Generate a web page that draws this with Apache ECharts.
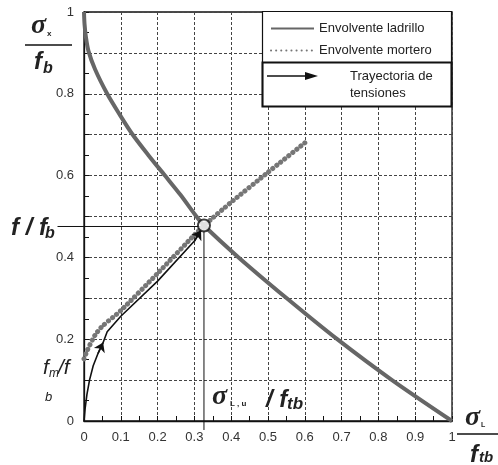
<!DOCTYPE html>
<html>
<head>
<meta charset="utf-8">
<script src="https://cdn.jsdelivr.net/npm/echarts@6/dist/echarts.min.js"></script>
<style>
html,body{margin:0;padding:0;background:#fff}
#main{width:498px;height:465px}
</style>
</head>
<body>
<div id="main"></div>
<script>
// curva envolvente del ladrillo
var brickX = [0, 0.0015, 0.005, 0.012, 0.03, 0.063, 0.095, 0.13, 0.175, 0.22, 0.262, 0.303, 0.326, 0.42, 0.551, 0.688, 0.837, 1];
var brickY = [1, 0.97, 0.94, 0.905, 0.86, 0.8, 0.752, 0.703, 0.65, 0.6, 0.553, 0.503, 0.478, 0.4, 0.3, 0.2, 0.1, 0];
// envolvente del mortero
var mortarX = [0, 0.01, 0.03, 0.05, 0.1, 0.2, 0.3, 0.326, 0.4, 0.5, 0.6];
var mortarY = [0.152, 0.175, 0.21, 0.232, 0.27, 0.361, 0.455, 0.478, 0.535, 0.608, 0.68];
// trayectoria de tensiones
var pathX = [0, 0.003, 0.008, 0.015, 0.025, 0.038, 0.052, 0.063, 0.1, 0.2, 0.3, 0.318];
var pathY = [0, 0.03, 0.065, 0.1, 0.135, 0.165, 0.192, 0.218, 0.256, 0.342, 0.44, 0.466];
var arrowAt = [6, 11];
// punto de rotura y lineas de referencia
var crossPt = [0.326, 0.478];
var refLeftX = -0.072;
var refBottomY = -0.022;

var txtColor = '#222';
var lineColor = '#111';

function pairs(xs, ys) {
  return xs.map(function (x, i) { return [x, ys[i]]; });
}

var pathData = pairs(pathX, pathY);
var arrows = arrowAt.map(function (i) {
  return [{ coord: pathData[i - 1] }, { coord: pathData[i] }];
});

var chart = echarts.init(document.getElementById('main'));

var option = {
  animation: false,
  grid: {
    left: 84, right: 46, top: 12, bottom: 44,
    show: true, borderColor: lineColor, borderWidth: 1.3
  },
  legend: {
    data: ['Envolvente ladrillo', 'Envolvente mortero'],
    orient: 'vertical',
    left: 270, top: 22,
    padding: 0,
    itemWidth: 43, itemHeight: 14, itemGap: 9,
    z: 6,
    itemStyle: { opacity: 0 },
    textStyle: { fontSize: 13, color: txtColor, fontFamily: 'Liberation Sans' }
  },
  xAxis: {
    type: 'value', min: 0, max: 1, interval: 0.1,
    axisLine: { lineStyle: { color: lineColor, width: 1.3 } },
    axisTick: { inside: true, length: 5, lineStyle: { color: lineColor } },
    minorTick: { show: true, splitNumber: 2, length: 5, lineStyle: { color: lineColor } },
    splitLine: { show: true, lineStyle: { color: '#444', type: [3, 2], width: 1 } },
    axisLabel: {
      margin: 10, fontSize: 13, color: '#333', fontFamily: 'Liberation Sans',
      formatter: function (v) {
        if (v === 0) return '0';
        if (Math.abs(v - 1) < 1e-9) return '1';
        return v.toFixed(1);
      }
    }
  },
  yAxis: {
    type: 'value', min: 0, max: 1, interval: 0.1,
    axisLine: { show: true, lineStyle: { color: lineColor, width: 1.3 } },
    axisTick: { show: true, inside: true, length: 5, lineStyle: { color: lineColor } },
    minorTick: { show: true, splitNumber: 2, length: 5, lineStyle: { color: lineColor } },
    splitLine: { show: true, lineStyle: { color: '#444', type: [3, 2], width: 1 } },
    axisLabel: {
      margin: 10, fontSize: 13, color: '#333', fontFamily: 'Liberation Sans',
      formatter: function (v) {
        var k = Math.round(v * 10);
        if (k % 2) return '';
        if (k === 0) return '0';
        if (k === 10) return '1';
        return v.toFixed(1);
      }
    }
  },
  series: [{
    name: 'Envolvente ladrillo',
    type: 'line',
    data: pairs(brickX, brickY),
    symbol: 'none',
    smooth: 0.3,
    z: 3,
    itemStyle: { color: '#666' },
    lineStyle: { color: '#666', width: 4 }
  }, {
    name: 'Envolvente mortero',
    type: 'line',
    data: pairs(mortarX, mortarY),
    symbol: 'none',
    smooth: 0.2,
    z: 2,
    itemStyle: { color: '#767676' },
    lineStyle: { color: '#767676', width: 5, type: [0.1, 5], cap: 'round' }
  }, {
    name: 'Trayectoria de tensiones',
    type: 'line',
    data: pathData,
    symbol: 'none',
    z: 4,
    lineStyle: { color: lineColor, width: 1.6 },
    markLine: {
      silent: true,
      symbol: ['none', 'arrow'],
      symbolSize: 9,
      label: { show: false },
      lineStyle: { color: lineColor, width: 1.6, type: 'solid' },
      data: arrows
    }
  }, {
    name: 'rotura',
    type: 'scatter',
    data: [crossPt],
    symbol: 'circle',
    symbolSize: 12,
    z: 10,
    itemStyle: { color: '#fff', borderColor: lineColor, borderWidth: 2 }
  }]
};

chart.setOption(option);

var pC = chart.convertToPixel({ gridIndex: 0 }, crossPt);
var pL = chart.convertToPixel({ gridIndex: 0 }, [refLeftX, crossPt[1]]);
var pB = chart.convertToPixel({ gridIndex: 0 }, [crossPt[0], refBottomY]);

var serif = 'italic bold 28px "Liberation Serif"';
var boldIt = 'italic bold 24px "Liberation Sans"';

chart.setOption({
  graphic: [
    // lineas de referencia
    { type: 'line', z: 1, shape: { x1: pL[0], y1: pC[1] + 1, x2: pC[0], y2: pC[1] + 1 }, style: { stroke: lineColor, lineWidth: 1 } },
    { type: 'line', z: 1, shape: { x1: pC[0], y1: pC[1], x2: pC[0], y2: pB[1] }, style: { stroke: lineColor, lineWidth: 1 } },

    // cuadro de leyenda
    { type: 'rect', z: 5, shape: { x: 262.5, y: 11.5, width: 189, height: 95 }, style: { fill: '#fff', stroke: lineColor, lineWidth: 1.2 } },
    { type: 'rect', z: 5, shape: { x: 262.5, y: 62.5, width: 189, height: 44 }, style: { fill: 'none', stroke: lineColor, lineWidth: 2 } },
    { type: 'line', z: 6, shape: { x1: 267, y1: 76, x2: 310, y2: 76 }, style: { stroke: lineColor, lineWidth: 1.6 } },
    { type: 'polygon', z: 6, shape: { points: [[305, 72], [318, 76], [305, 80]] }, style: { fill: lineColor } },
    { type: 'text', z: 6, x: 350, y: 68, style: { text: 'Trayectoria de\ntensiones', font: '13px "Liberation Sans"', fill: txtColor, lineHeight: 17 } },

    // titulo eje y
    { type: 'text', z: 6, x: 31, y: 12, style: { text: 'σ', font: serif, fill: txtColor } },
    { type: 'text', z: 6, x: 47, y: 30, style: { text: 'x', font: 'bold 8px "Liberation Sans"', fill: txtColor } },
    { type: 'line', z: 6, shape: { x1: 25, y1: 45, x2: 72, y2: 45 }, style: { stroke: lineColor, lineWidth: 1.5 } },
    { type: 'text', z: 6, x: 34, y: 50, style: { text: 'f', font: boldIt, fill: txtColor } },
    { type: 'text', z: 6, x: 43, y: 61, style: { text: 'b', font: 'italic bold 16px "Liberation Sans"', fill: txtColor } },

    // f / fb
    { type: 'text', z: 6, x: 11, y: 216, style: { text: 'f / f', font: boldIt, fill: txtColor } },
    { type: 'text', z: 6, x: 45, y: 226, style: { text: 'b', font: 'italic bold 16px "Liberation Sans"', fill: txtColor } },

    // fm / fb
    { type: 'text', z: 6, x: 43, y: 358, style: { text: 'f', font: 'italic 21px "Liberation Sans"', fill: txtColor } },
    { type: 'text', z: 6, x: 49, y: 368, style: { text: 'm', font: 'italic 12px "Liberation Sans"', fill: txtColor } },
    { type: 'text', z: 6, x: 58, y: 358, style: { text: '/f', font: 'italic 21px "Liberation Sans"', fill: txtColor } },
    { type: 'text', z: 6, x: 45, y: 391, style: { text: 'b', font: 'italic 13px "Liberation Sans"', fill: txtColor } },

    // sigma L,u / ftb
    { type: 'text', z: 6, x: 212, y: 383, style: { text: 'σ', font: serif, fill: txtColor } },
    { type: 'text', z: 6, x: 230, y: 400, style: { text: 'L , u', font: 'bold 8px "Liberation Sans"', fill: txtColor } },
    { type: 'text', z: 6, x: 266, y: 388, style: { text: '/ f', font: boldIt, fill: txtColor } },
    { type: 'text', z: 6, x: 287, y: 396, style: { text: 'tb', font: 'italic bold 17px "Liberation Sans"', fill: txtColor } },

    // titulo eje x
    { type: 'text', z: 6, x: 465, y: 404, style: { text: 'σ', font: serif, fill: txtColor } },
    { type: 'text', z: 6, x: 481, y: 422, style: { text: 'L', font: 'bold 7px "Liberation Sans"', fill: txtColor } },
    { type: 'line', z: 6, shape: { x1: 457, y1: 434, x2: 498, y2: 434 }, style: { stroke: lineColor, lineWidth: 1.5 } },
    { type: 'text', z: 6, x: 470, y: 443, style: { text: 'f', font: boldIt, fill: txtColor } },
    { type: 'text', z: 6, x: 479, y: 450, style: { text: 'tb', font: 'italic bold 15px "Liberation Sans"', fill: txtColor } }
  ]
});
</script>
</body>
</html>
